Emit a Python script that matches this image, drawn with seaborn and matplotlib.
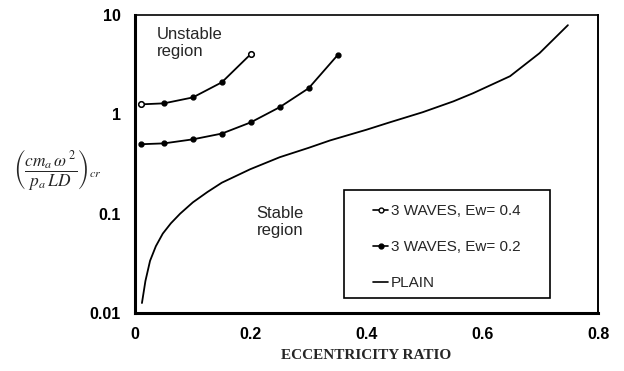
import matplotlib
matplotlib.use("Agg")
import matplotlib.pyplot as plt
import seaborn as sns
import pandas as pd
from matplotlib.lines import Line2D
from matplotlib.patches import Rectangle
from matplotlib.ticker import FixedLocator, FixedFormatter, NullLocator

# ---- data ----
ecc_w04 = [0.01, 0.05, 0.10, 0.15, 0.20]
val_w04 = [1.26, 1.29, 1.48, 2.10, 4.04]

ecc_w02 = [0.01, 0.05, 0.10, 0.15, 0.20, 0.25, 0.30, 0.35]
val_w02 = [0.50, 0.51, 0.56, 0.64, 0.83, 1.18, 1.83, 3.94]

ecc_plain = [0.012, 0.018, 0.026, 0.036, 0.048, 0.062, 0.078, 0.100, 0.125,
             0.150, 0.199, 0.25, 0.30, 0.337, 0.40, 0.44, 0.497, 0.55,
             0.584, 0.648, 0.699, 0.748]
val_plain = [0.0126, 0.021, 0.0335, 0.047, 0.063, 0.08, 0.10, 0.13, 0.165,
             0.205, 0.28, 0.37, 0.46, 0.546, 0.70, 0.83, 1.05, 1.35,
             1.63, 2.42, 4.13, 7.9]

x_ticks = [0, 0.2, 0.4, 0.6, 0.8]
x_ticklabels = ["0", "0.2", "0.4", "0.6", "0.8"]
y_ticks = [0.01, 0.1, 1, 10]
y_ticklabels = ["0.01", "0.1", "1", "10"]

labels = ["3 WAVES, Ew= 0.4", "3 WAVES, Ew= 0.2", "PLAIN"]

sns.set_theme(style="white")
plt.rcParams["font.family"] = ["Liberation Sans", "DejaVu Sans"]
plt.rcParams["mathtext.fontset"] = "stix"

fig = plt.figure(figsize=(6.24, 3.71), dpi=100)
ax = fig.add_axes([135/624, 1-313/371, (598-135)/624, (313-15)/371])

df04 = pd.DataFrame({"x": ecc_w04, "y": val_w04})
df02 = pd.DataFrame({"x": ecc_w02, "y": val_w02})
dfp = pd.DataFrame({"x": ecc_plain, "y": val_plain})

lw = 1.3
sns.lineplot(data=df04, x="x", y="y", ax=ax, color="black", lw=lw,
             marker="o", markersize=3.5, markerfacecolor="black",
             markeredgecolor="black", markeredgewidth=1)
# open circles at the ends of the Ew=0.4 curve
ax.plot([ecc_w04[0], ecc_w04[-1]], [val_w04[0], val_w04[-1]], ls="none",
        marker="o", markersize=4, markerfacecolor="white",
        markeredgecolor="black", markeredgewidth=1.1)
sns.lineplot(data=df02, x="x", y="y", ax=ax, color="black", lw=lw,
             marker="o", markersize=3.5, markerfacecolor="black",
             markeredgecolor="black", markeredgewidth=1)
sns.lineplot(data=dfp, x="x", y="y", ax=ax, color="black", lw=lw)

ax.set_yscale("log")
ax.set_xlim(0, 0.8)
ax.set_ylim(0.01, 10)
ax.xaxis.set_major_locator(FixedLocator(x_ticks))
ax.xaxis.set_major_formatter(FixedFormatter(x_ticklabels))
ax.yaxis.set_major_locator(FixedLocator(y_ticks))
ax.yaxis.set_major_formatter(FixedFormatter(y_ticklabels))
ax.yaxis.set_minor_locator(NullLocator())
ax.tick_params(axis="both", which="major", direction="in", length=4,
               width=1.5, color="black", labelsize=11.5, labelcolor="black")
ax.tick_params(axis="x", pad=10)
ax.tick_params(axis="y", pad=10)
for lab in ax.get_xticklabels() + ax.get_yticklabels():
    lab.set_fontweight("bold")

for side, w in [("left", 2.2), ("bottom", 2.2), ("top", 1.2), ("right", 1.4)]:
    ax.spines[side].set_visible(True)
    ax.spines[side].set_color("black")
    ax.spines[side].set_linewidth(w)

ax.set_xlabel("ECCENTRICITY RATIO", fontfamily="Liberation Serif",
              fontweight="bold", fontsize=11)
ax.xaxis.set_label_coords(0.5, -0.12)
ax.set_ylabel("")
fig.text(57/624, 1-170/371,
         r"$\left(\dfrac{cm_a\,\omega^{\,2}}{p_a\,LD}\right)_{cr}$",
         ha="center", va="center", fontsize=12.5)

ax.text(0.038, 7.6, "Unstable\nregion", ha="left", va="top",
        fontsize=12, linespacing=1.15)
ax.text(0.21, 0.12, "Stable\nregion", ha="left", va="top",
        fontsize=12, linespacing=1.15)

# legend box
ax.add_patch(Rectangle((0.452, 0.050), 0.445, 0.362, transform=ax.transAxes,
                       facecolor="white", edgecolor="black", lw=1.2,
                       zorder=4))
handles = [
    Line2D([], [], color="black", lw=1.2, marker="o", markersize=3.5,
           markerfacecolor="white", markeredgecolor="black"),
    Line2D([], [], color="black", lw=1.2, marker="o", markersize=3.5,
           markerfacecolor="black", markeredgecolor="black"),
    Line2D([], [], color="black", lw=1.2),
]
leg = ax.legend(handles, labels, loc="upper left",
                bbox_to_anchor=(0.514, 0.366),
                frameon=False, fontsize=11, handlelength=1.0,
                handletextpad=0.15, labelspacing=1.45, borderpad=0,
                borderaxespad=0)
leg.set_zorder(5)

fig.savefig("out.png", dpi=100, facecolor="white")
